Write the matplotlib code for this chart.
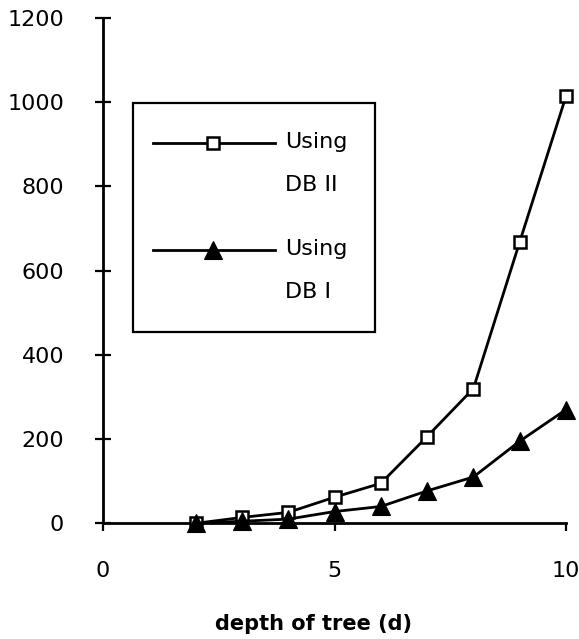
import matplotlib
matplotlib.use('Agg')
import matplotlib.pyplot as plt
from matplotlib.patches import Rectangle
from matplotlib.lines import Line2D

# depth of tree and the two measured series
depth = [2, 3, 4, 5, 6, 7, 8, 9, 10]
db2 = [0, 14, 26, 62, 95, 206, 320, 668, 1014]
db1 = [0, 5, 10, 28, 40, 77, 110, 195, 270]

x_ticks = [0, 5, 10]
y_ticks = [0, 200, 400, 600, 800, 1000, 1200]

plt.rcParams['font.family'] = ['DejaVu Sans']

fig = plt.figure(figsize=(5.79, 6.39), dpi=100)
ax = fig.add_axes([0.178, 0.181, 0.7995, 0.791])

sq = dict(color='black', lw=2, marker='s', ms=9, mfc='white', mew=1.8)
tri = dict(color='black', lw=2, marker='^', ms=13, mfc='black', mew=0.8)

ax.plot(depth, db2, clip_on=False, zorder=3, **sq)
ax.plot(depth, db1, clip_on=False, zorder=3, **tri)

ax.set_xlim(0, 10)
ax.set_ylim(0, 1200)
ax.set_xticks(x_ticks)
ax.set_yticks(y_ticks)

for s in ['top', 'right']:
    ax.spines[s].set_visible(False)
for s in ['left', 'bottom']:
    ax.spines[s].set_linewidth(2)

ax.tick_params(axis='y', direction='inout', length=12, width=1.6, labelsize=16, pad=22)
ax.tick_params(axis='x', direction='out', length=6, width=1.6, labelsize=16, pad=21)
ax.set_xlabel('depth of tree (d)', fontsize=15, fontweight='bold')
ax.xaxis.set_label_coords(0.454, -0.18)

# legend box drawn by hand so the two-line labels sit like the original
ax.add_patch(Rectangle((0.065, 0.379), 0.522, 0.453, transform=ax.transAxes,
                       fill=False, ec='black', lw=1.6, zorder=4))
rows = [(0.753, 'Using\nDB II', sq), (0.5415, 'Using\nDB I', tri)]
for yy, txt, st in rows:
    ax.add_line(Line2D([0.108, 0.371], [yy, yy], transform=ax.transAxes, color='black', lw=2, zorder=4))
    ax.add_line(Line2D([0.238], [yy], transform=ax.transAxes, ls='none', zorder=5,
                       **{k: v for k, v in st.items() if k != 'lw'}))
    ax.text(0.393, yy + 0.021, txt, transform=ax.transAxes, fontsize=16, va='top',
            linespacing=2.45, ha='left')

fig.savefig('out.png', dpi=100)
